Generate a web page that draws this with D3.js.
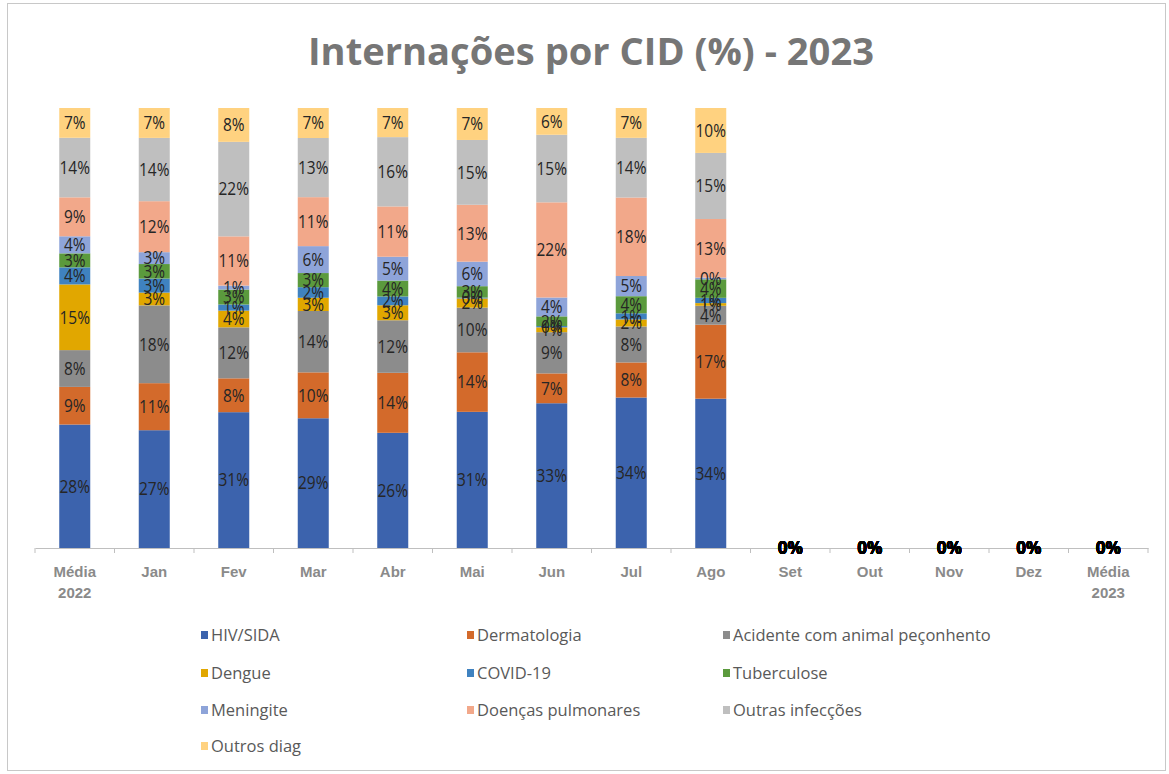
<!DOCTYPE html>
<html>
<head>
<meta charset="utf-8">
<script src="https://cdn.jsdelivr.net/npm/d3@7"></script>
<style>
  body { margin: 0; background: #fff; }
  svg { display: block; }
</style>
</head>
<body>
<script>
// months shown on the axis
var categories = ["Média 2022", "Jan", "Fev", "Mar", "Abr", "Mai", "Jun", "Jul", "Ago",
                  "Set", "Out", "Nov", "Dez", "Média 2023"];

var seriesNames = ["HIV/SIDA", "Dermatologia", "Acidente com animal peçonhento", "Dengue",
                   "COVID-19", "Tuberculose", "Meningite", "Doenças pulmonares",
                   "Outras infecções", "Outros diag"];

// % per month (Set..Média 2023 are empty)
var hivSida      = [28.2, 26.8, 30.9, 29.4, 26.1, 31.1, 33.0, 34.3, 33.9, 0, 0, 0, 0, 0];
var dermatologia = [ 8.6, 10.7,  7.7, 10.4, 13.6, 13.6,  6.8,  8.0, 16.8, 0, 0, 0, 0, 0];
var acidente     = [ 8.4, 17.7, 11.6, 13.9, 11.9, 10.2,  9.4,  8.2,  4.3, 0, 0, 0, 0, 0];
var dengue       = [15.0,  2.9,  3.8,  3.0,  3.4,  2.1,  1.1,  1.6,  0.6, 0, 0, 0, 0, 0];
var covid        = [ 3.9,  3.2,  1.4,  2.4,  2.0,  0.2,  0.3,  1.4,  1.2, 0, 0, 0, 0, 0];
var tuberculose  = [ 3.2,  3.3,  3.4,  3.2,  3.6,  2.6,  2.2,  3.9,  4.2, 0, 0, 0, 0, 0];
var meningite    = [ 3.9,  2.7,  0.9,  6.1,  5.4,  5.6,  4.3,  4.6,  0.4, 0, 0, 0, 0, 0];
var pulmonares   = [ 8.9, 11.6, 11.2, 11.1, 11.4, 13.0, 21.7, 17.9, 13.3, 0, 0, 0, 0, 0];
var outrasInf    = [13.6, 14.4, 21.5, 13.4, 15.7, 14.8, 15.4, 13.6, 15.0, 0, 0, 0, 0, 0];
var outrosDiag   = [ 6.8,  6.8,  7.7,  6.8,  6.6,  7.3,  6.1,  6.8, 10.2, 0, 0, 0, 0, 0];

var seriesValues = [hivSida, dermatologia, acidente, dengue, covid, tuberculose,
                    meningite, pulmonares, outrasInf, outrosDiag];

var colors = ["#3c63ad", "#d36a2b", "#8c8c8c", "#e1a700", "#3f82c0",
              "#5b9a3d", "#8ea4d9", "#f2a88a", "#bfbfbf", "#ffd280"];

var W = 1169, H = 774;
var margin = {left: 35, right: 21, top: 108, bottom: 226};

var table = categories.map(function(c, i) {
  var row = {cat: c};
  seriesNames.forEach(function(s, k) { row[s] = seriesValues[k][i]; });
  return row;
});

var svg = d3.select("body").append("svg")
  .attr("width", W)
  .attr("height", H)
  .style("font-family", "'Open Sans', sans-serif");

// chart border
svg.append("rect")
  .attr("x", 7.5).attr("y", 3.5)
  .attr("width", W - 11).attr("height", H - 7)
  .attr("fill", "none").attr("stroke", "#c8c8c8");

svg.append("text")
  .attr("x", 591).attr("y", 65)
  .attr("text-anchor", "middle")
  .attr("font-size", 38).attr("font-weight", "bold")
  .attr("fill", "#767676")
  .attr("textLength", 566).attr("lengthAdjust", "spacingAndGlyphs")
  .text("Internações por CID (%) - 2023");

var x = d3.scaleBand()
  .domain(categories)
  .range([margin.left, W - margin.right])
  .paddingInner(0.61)
  .paddingOuter(0.305);

var y = d3.scaleLinear()
  .domain([0, 1])
  .range([H - margin.bottom, margin.top]);

var stack = d3.stack().keys(seriesNames).offset(d3.stackOffsetExpand);
var layers = stack(table);

var g = svg.append("g");

var layer = g.selectAll("g.layer")
  .data(layers)
  .enter().append("g")
  .attr("class", "layer")
  .attr("fill", function(d, i) { return colors[i]; });

layer.selectAll("rect")
  .data(function(d) { return d.filter(function(p) { return p[1] > p[0]; }); })
  .enter().append("rect")
  .attr("x", function(d) { return x(d.data.cat); })
  .attr("y", function(d) { return y(d[1]); })
  .attr("width", x.bandwidth())
  .attr("height", function(d) { return y(d[0]) - y(d[1]); });

// x axis
var axisY = H - margin.bottom;
var xAxis = g.append("g")
  .attr("transform", "translate(0," + axisY + ")")
  .call(d3.axisBottom(x).tickSize(0).tickPadding(0));

xAxis.select(".domain").attr("stroke", "#bfbfbf").attr("stroke-width", 1);
xAxis.selectAll(".tick text").remove();
xAxis.selectAll(".tick").each(function(c) {
  var parts = c.indexOf("Média") === 0 ? c.split(" ") : [c];
  var t = d3.select(this).append("text")
    .attr("fill", "#8a8a8a")
    .attr("font-size", 15)
    .attr("font-weight", "bold")
    .attr("text-anchor", "middle");
  parts.forEach(function(p, i) {
    t.append("tspan").attr("x", 0).attr("y", 29 + i * 21).text(p);
  });
});

// boundary ticks like excel
xAxis.selectAll("line.sep")
  .data(d3.range(categories.length + 1))
  .enter().append("line")
  .attr("class", "sep")
  .attr("x1", function(i) { return margin.left + i * x.step(); })
  .attr("x2", function(i) { return margin.left + i * x.step(); })
  .attr("y1", 0).attr("y2", 5)
  .attr("stroke", "#bfbfbf");

// data labels, drawn after all rects so none get covered
var labels = [];
layers.forEach(function(L) {
  L.forEach(function(p) { labels.push({p: p, v: p.data[L.key]}); });
});

g.append("g").selectAll("text")
  .data(labels)
  .enter().append("text")
  .attr("transform", function(d) {
    var cx = x(d.p.data.cat) + x.bandwidth() / 2;
    var cy = (y(d.p[0]) + y(d.p[1])) / 2;
    var sx = d.p[1] === 0 ? 0.95 : 0.86;
    return "translate(" + cx + "," + cy + ") scale(" + sx + ",1)";
  })
  .attr("dy", "0.35em")
  .attr("text-anchor", "middle")
  .attr("font-size", 18)
  .attr("fill", function(d) { return d.p[1] === 0 ? "#000" : "#262626"; })
  .attr("font-weight", function(d) { return d.p[1] === 0 ? "bold" : "normal"; })
  .text(function(d) { return Math.round(d.v) + "%"; });

// legend
var legCols = [201, 467, 723];
var legRows = [635, 673, 710, 746];
var legend = svg.append("g").selectAll("g")
  .data(seriesNames)
  .enter().append("g")
  .attr("transform", function(d, i) {
    return "translate(" + legCols[i % 3] + "," + legRows[Math.floor(i / 3)] + ")";
  });

legend.append("rect")
  .attr("x", 0).attr("y", -4)
  .attr("width", 7).attr("height", 8)
  .attr("fill", function(d, i) { return colors[i]; });

legend.append("text")
  .attr("x", 10).attr("y", 0)
  .attr("dy", "0.35em")
  .attr("font-size", 16.5)
  .attr("fill", "#595959")
  .text(function(d) { return d; });
</script>
</body>
</html>
